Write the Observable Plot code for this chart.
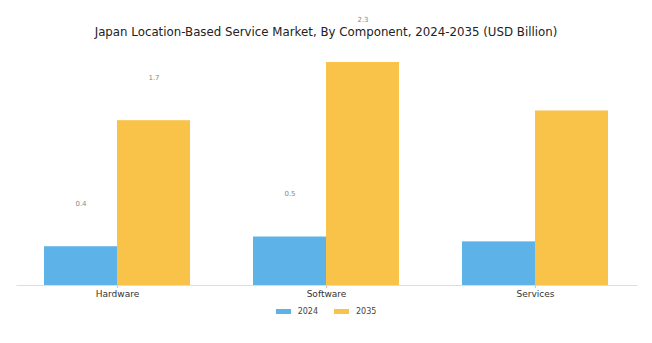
<!DOCTYPE html>
<html>
<head>
<meta charset="utf-8">
<script src="https://cdn.jsdelivr.net/npm/d3@7"></script>
<script src="https://cdn.jsdelivr.net/npm/@observablehq/plot@0.6"></script>
<style>
  body { margin: 0; background: #fff; font-family: "DejaVu Sans", sans-serif; }
  #wrap { position: relative; width: 652px; height: 343px; }
  #title { position: absolute; top: 25px; left: 0; width: 652px; text-align: center; font-size: 11.8px; color: #222; pointer-events: none; }
  #legend { position: absolute; top: 307px; left: 0; width: 652px; display: flex; justify-content: center; gap: 16px; font-size: 8px; color: #444; }
  .item { display: flex; align-items: center; gap: 7px; }
  .sw { width: 15px; height: 5px; display: inline-block; }
  svg { position: absolute; top: 0; left: 0; overflow: visible; }
</style>
</head>
<body>
<div id="wrap">
  <div id="chart"></div>
  <div id="title">Japan Location-Based Service Market, By Component, 2024-2035 (USD Billion)</div>
  <div id="legend"></div>
</div>
<script>
const categories = ["Hardware", "Software", "Services"];
const years = ["2024", "2035"];
const values2024 = [0.4, 0.5, 0.45];
const values2035 = [1.7, 2.3, 1.8];
const labels2024 = ["0.4", "0.5", ""];
const labels2035 = ["1.7", "2.3", ""];
const colors = ["#5DB3E7", "#F9C34A"];

const d24 = categories.map((c, i) => ({category: c, value: values2024[i], label: labels2024[i]}));
const d35 = categories.map((c, i) => ({category: c, value: values2035[i], label: labels2035[i]}));

const half = 73;
const chart = Plot.plot({
  width: 652,
  height: 300,
  marginLeft: 12.5,
  marginRight: 12.5,
  marginTop: 62,
  marginBottom: 15,
  style: {fontFamily: "DejaVu Sans, sans-serif", background: "transparent", overflow: "visible"},
  x: {domain: categories, paddingInner: 0.3, paddingOuter: 0.15, label: null},
  y: {domain: [0, d3.max(values2035)], axis: null},
  marks: [
    Plot.barY(d24, {x: "category", y: "value", fill: colors[0], insetRight: half}),
    Plot.barY(d35, {x: "category", y: "value", fill: colors[1], insetLeft: half}),
    Plot.text(d24, {x: "category", y: "value", text: "label", dx: -half / 2, dy: -43, fill: "#888", fontSize: 7}),
    Plot.text(d35, {x: "category", y: "value", text: "label", dx: half / 2, dy: -43, fill: "#888", fontSize: 7}),
    Plot.ruleY([0], {stroke: "#ddd", strokeWidth: 1, insetLeft: 4, insetRight: 2}),
    Plot.axisX({tickSize: 3, stroke: "#ccc", tickPadding: 2, fontSize: 9, color: "#333", label: null})
  ]
});
document.getElementById("chart").appendChild(chart);

const legend = document.getElementById("legend");
years.forEach((y, i) => {
  const it = document.createElement("div");
  it.className = "item";
  it.innerHTML = `<span class="sw" style="background:${colors[i]}"></span><span>${y}</span>`;
  legend.appendChild(it);
});
</script>
</body>
</html>
